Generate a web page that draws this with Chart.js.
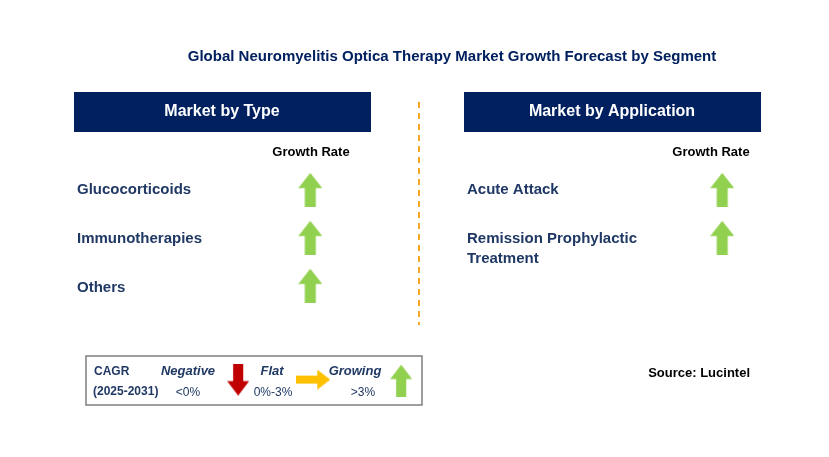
<!DOCTYPE html>
<html>
<head>
<meta charset="utf-8">
<script src="https://cdn.jsdelivr.net/npm/chart.js@4.4.0/dist/chart.umd.min.js"></script>
<style>
  html, body { margin: 0; padding: 0; background: #fff; }
  #wrap { width: 829px; height: 457px; }
</style>
</head>
<body>
<div id="wrap"><canvas id="c"></canvas></div>
<script>
// ---- data ----
const typeSegments = ['Glucocorticoids', 'Immunotherapies', 'Others'];
const typeTrends = ['growing', 'growing', 'growing'];
const appSegments = [['Acute Attack'], ['Remission Prophylactic', 'Treatment']];
const appTrends = ['growing', 'growing'];
const legendItems = [
  { label: 'Negative', range: '<0%', trend: 'negative' },
  { label: 'Flat', range: '0%-3%', trend: 'flat' },
  { label: 'Growing', range: '>3%', trend: 'growing' }
];

const NAVY = '#002060';
const TEXT = '#1f3864';
const COLORS = { growing: '#92d050', negative: '#c00000', flat: '#ffc000' };

// arrow sprite for pointStyle
function arrowSprite(trend, w, h) {
  const c = document.createElement('canvas');
  c.width = w; c.height = h;
  const g = c.getContext('2d');
  g.fillStyle = COLORS[trend];
  g.beginPath();
  if (trend === 'flat') {
    const s = h * 0.3;
    g.moveTo(0, s); g.lineTo(w * 0.62, s); g.lineTo(w * 0.62, 0);
    g.lineTo(w, h / 2); g.lineTo(w * 0.62, h); g.lineTo(w * 0.62, h - s); g.lineTo(0, h - s);
  } else if (trend === 'negative') {
    const s = w * 0.27;
    g.moveTo(s, 0); g.lineTo(w - s, 0); g.lineTo(w - s, h * 0.55); g.lineTo(w, h * 0.55);
    g.lineTo(w / 2, h); g.lineTo(0, h * 0.55); g.lineTo(s, h * 0.55);
  } else {
    const s = w * 0.27;
    g.moveTo(w / 2, 0); g.lineTo(w, h * 0.45); g.lineTo(w - s, h * 0.45); g.lineTo(w - s, h);
    g.lineTo(s, h); g.lineTo(s, h * 0.45); g.lineTo(0, h * 0.45);
  }
  g.closePath(); g.fill();
  return c;
}

const rowY = i => 189 + i * 49;
const typePts = typeTrends.map((t, i) => ({ x: 309, y: rowY(i) }));
const appPts = appTrends.map((t, i) => ({ x: 726, y: rowY(i) }));
const legPts = [{ x: 236, y: 383 }, { x: 312, y: 383 }, { x: 401, y: 384 }];

const textPlugin = {
  id: 'infographic',
  beforeDatasetsDraw(chart) {
    const ctx = chart.ctx;
    ctx.save();
    ctx.textBaseline = 'middle';
    // title
    ctx.fillStyle = NAVY;
    ctx.font = 'bold 15px "Liberation Sans", Arial';
    ctx.textAlign = 'center';
    ctx.fillText('Global Neuromyelitis Optica Therapy Market Growth Forecast by Segment', 452, 57);
    // header boxes
    [[74, 'Market by Type'], [464, 'Market by Application']].forEach(([x, t]) => {
      ctx.fillStyle = NAVY;
      ctx.fillRect(x, 92, 297, 40);
      ctx.fillStyle = '#fff';
      ctx.font = 'bold 16px "Liberation Sans", Arial';
      ctx.fillText(t, x + 148, 112);
    });
    // growth rate headers
    ctx.fillStyle = '#000';
    ctx.font = 'bold 13px "Liberation Sans", Arial';
    ctx.fillText('Growth Rate', 311, 152);
    ctx.fillText('Growth Rate', 711, 152);
    // segment labels
    ctx.textAlign = 'left';
    ctx.fillStyle = TEXT;
    ctx.font = 'bold 15px "Liberation Sans", Arial';
    typeSegments.forEach((s, i) => ctx.fillText(s, 77, rowY(i) + 1));
    appSegments.forEach((lines, i) => lines.forEach((l, j) => ctx.fillText(l, 467, rowY(i) + 1 + j * 20)));
    // dashed divider
    ctx.strokeStyle = '#f4b183';
    ctx.strokeStyle = '#f5a623';
    ctx.lineWidth = 2;
    ctx.setLineDash([6, 5]);
    ctx.beginPath(); ctx.moveTo(419, 102); ctx.lineTo(419, 325); ctx.stroke();
    ctx.setLineDash([]);
    // legend box
    ctx.strokeStyle = '#7f7f7f';
    ctx.lineWidth = 1.5;
    ctx.strokeRect(86, 356, 336, 49);
    ctx.fillStyle = TEXT;
    ctx.font = 'bold 12px "Liberation Sans", Arial';
    ctx.fillText('CAGR', 94, 372);
    ctx.fillText('(2025-2031)', 93, 392);
    const labX = [188, 272, 355];
    const rngX = [188, 273, 363];
    legendItems.forEach((it, i) => {
      ctx.textAlign = 'center';
      ctx.font = 'bold italic 13px "Liberation Sans", Arial';
      ctx.fillText(it.label, labX[i], 371);
      ctx.font = '12px "Liberation Sans", Arial';
      ctx.fillText(it.range, rngX[i], 393);
    });
    ctx.textAlign = 'right';
    ctx.fillStyle = '#000';
    ctx.font = 'bold 13px "Liberation Sans", Arial';
    ctx.fillText('Source: Lucintel', 750, 373);
    ctx.restore();
  }
};

new Chart(document.getElementById('c'), {
  type: 'scatter',
  data: {
    datasets: [
      { data: typePts, pointStyle: typeTrends.map(t => arrowSprite(t, 24, 34)) },
      { data: appPts, pointStyle: appTrends.map(t => arrowSprite(t, 24, 34)) },
      { data: legPts, pointStyle: [arrowSprite('negative', 22, 32), arrowSprite('flat', 34, 20), arrowSprite('growing', 22, 32)] }
    ]
  },
  options: {
    responsive: true,
    maintainAspectRatio: false,
    animation: false,
    layout: { padding: 0 },
    plugins: { legend: { display: false }, tooltip: { enabled: false } },
    scales: {
      x: { type: 'linear', min: 0, max: 829, display: false },
      y: { type: 'linear', min: 0, max: 457, reverse: true, display: false }
    }
  },
  plugins: [textPlugin]
});
</script>
</body>
</html>
